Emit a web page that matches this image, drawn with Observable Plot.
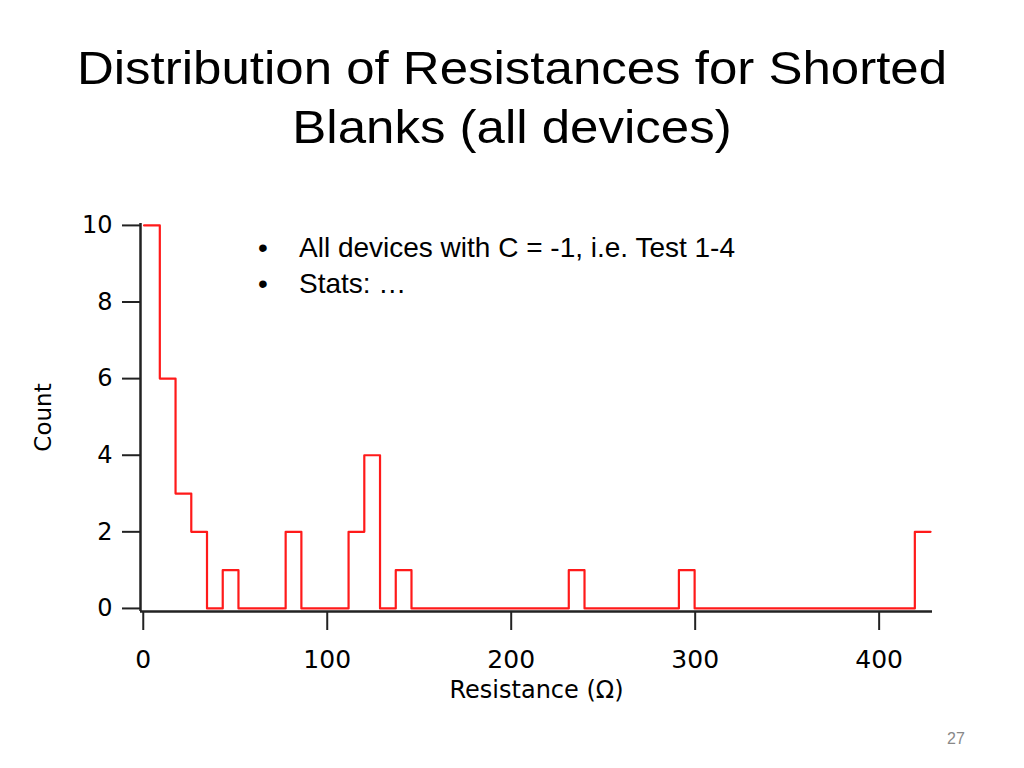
<!DOCTYPE html>
<html>
<head>
<meta charset="utf-8">
<script src="https://cdn.jsdelivr.net/npm/d3@7"></script>
<script src="https://cdn.jsdelivr.net/npm/@observablehq/plot@0.6"></script>
<style>
  html, body { margin: 0; padding: 0; background: #fff; }
  #page { position: relative; width: 1024px; height: 768px; overflow: hidden; font-family: "Liberation Sans", Arial, sans-serif; }
  #title { position: absolute; left: 0; top: 38px; width: 1024px; text-align: center; font-size: 47px; line-height: 59px; color: #000; transform: scaleX(1.085); transform-origin: 512px 0; }
  #chart { position: absolute; left: 0; top: 190px; }
  #bullets { position: absolute; left: 258px; top: 230px; font-size: 28px; line-height: 36px; color: #000; }
  #bullets div { position: relative; padding-left: 41px; white-space: nowrap; }
  #bullets div::before { content: "•"; position: absolute; left: 0; }
  #pagenum { position: absolute; left: 947px; top: 730px; font-size: 16px; color: #888; }
</style>
</head>
<body>
<div id="page">
  <div id="title">Distribution of Resistances for Shorted<br>Blanks (all devices)</div>
  <div id="chart"></div>
  <div id="bullets">
    <div>All devices with C = -1, i.e. Test 1-4</div>
    <div>Stats: …</div>
  </div>
  <div id="pagenum">27</div>
</div>
<script>
// Histogram bin edges (Ω)
const binEdges = [0.45, 9.0, 17.55, 26.1, 34.65, 43.2, 51.75, 60.3, 68.85, 77.4,
  85.95, 94.5, 103.05, 111.6, 120.15, 128.7, 137.25, 145.8, 154.35, 162.9,
  171.45, 180.0, 188.55, 197.1, 205.65, 214.2, 222.75, 231.3, 239.85, 248.4,
  256.95, 265.5, 274.05, 282.6, 291.15, 299.7, 308.25, 316.8, 325.35, 333.9,
  342.45, 351.0, 359.55, 368.1, 376.65, 385.2, 393.75, 402.3, 410.85, 419.4, 427.95];
// Counts per bin
const counts = [10, 6, 3, 2, 0, 1, 0, 0, 0, 2,
  0, 0, 0, 2, 4, 0, 1, 0, 0, 0,
  0, 0, 0, 0, 0, 0, 0, 1, 0, 0,
  0, 0, 0, 0, 1, 0, 0, 0, 0, 0,
  0, 0, 0, 0, 0, 0, 0, 0, 0, 2];
const xTicks = [0, 100, 200, 300, 400];
const yTicks = [0, 2, 4, 6, 8, 10];
const xLabel = "Resistance (Ω)";
const yLabel = "Count";

const stepData = binEdges.map((e, i) => ({x: e, y: counts[Math.min(i, counts.length - 1)]}));

const xMin = -1.5, xMax = 429;
const yMin = -0.08, yMax = 10.05;

const chart = Plot.plot({
  width: 1024,
  height: 530,
  marginLeft: 140,
  marginRight: 92,
  marginTop: 33,
  marginBottom: 109,
  style: {fontFamily: "DejaVu Sans, sans-serif", fontSize: "24px", color: "#000", background: "#fff"},
  x: {domain: [xMin, xMax]},
  y: {domain: [yMin, yMax]},
  marks: [
    Plot.axisX({ticks: xTicks, tickSize: 19, tickPadding: 20, tickFormat: d => String(d), label: null, strokeWidth: 2, stroke: "#222", fontSize: 25}),
    Plot.axisY({ticks: yTicks, tickSize: 18, tickPadding: 10, tickFormat: d => String(d), label: null, strokeWidth: 2, stroke: "#222", fontSize: 24}),
    Plot.ruleY([yMin], {stroke: "#222", strokeWidth: 2.5}),
    Plot.ruleX([xMin], {stroke: "#222", strokeWidth: 2.5}),
    Plot.line(stepData, {x: "x", y: "y", curve: "step-after", stroke: "#ff1a1a", strokeWidth: 2.2}),
    Plot.text([xLabel], {frameAnchor: "bottom", textAnchor: "middle", dy: 86, fontSize: 24, fill: "#000"}),
    Plot.text([yLabel], {frameAnchor: "left", textAnchor: "middle", dx: -97, rotate: -90, fontSize: 23, fill: "#000"})
  ]
});
document.getElementById("chart").appendChild(chart);
</script>
</body>
</html>
